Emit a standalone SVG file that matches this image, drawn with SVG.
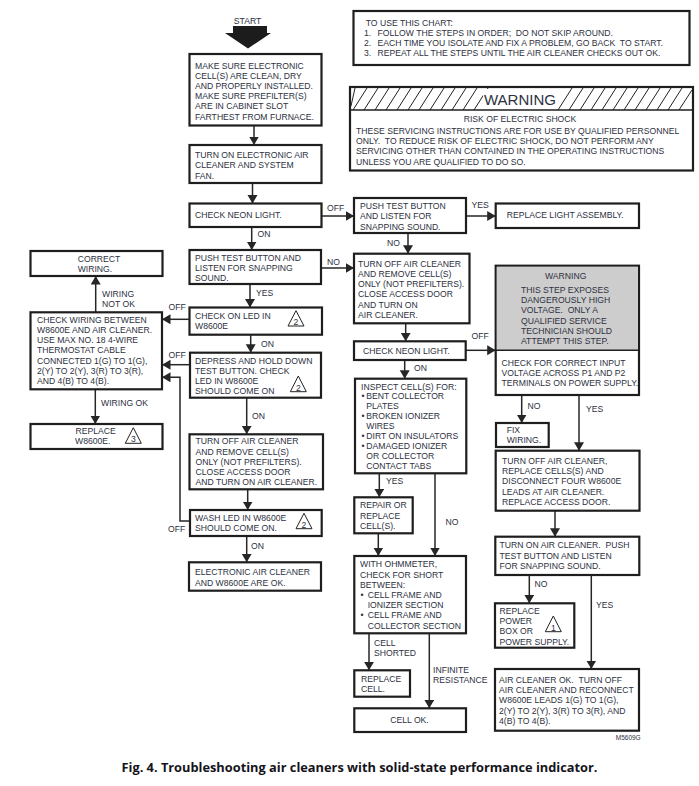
<svg xmlns="http://www.w3.org/2000/svg" width="699" height="786" viewBox="0 0 699 786">
<style>
text{font-family:"Liberation Sans",Arial,sans-serif;font-size:8.65px;fill:#2d3140;white-space:pre}
.b{fill:#fff;stroke:#1e1e1e;stroke-width:2.2}
.c{fill:none;stroke:#262626;stroke-width:1.5;marker-end:url(#a)}
.t{fill:#fff;stroke:#222;stroke-width:1}
.m{text-anchor:middle}
.cap{font-family:"Open Sans","Liberation Sans",sans-serif;font-size:12.8px;font-weight:700;fill:#14141a}
</style>
<defs>
<marker id="a" markerUnits="userSpaceOnUse" markerWidth="10" markerHeight="11" refX="8.500" refY="5" orient="auto"><path d="M0 0L8.500 5L0 10Z" fill="#262626"/></marker>
</defs>
<rect width="699" height="786" fill="#fff"/>
<g id="connectors">
<path class="c" d="M254 125V145"/>
<path class="c" d="M252.500 183V203.500"/>
<path class="c" d="M251.700 227V250"/>
<path class="c" d="M250 284V307.500"/>
<path class="c" d="M250.700 335V352.700"/>
<path class="c" d="M246.700 398V434.300"/>
<path class="c" d="M247.700 489V510"/>
<path class="c" d="M246.700 536V562.300"/>
<path class="c" d="M321 216H354"/>
<path class="c" d="M466 216H495.700"/>
<path class="c" d="M408 233V253.700"/>
<path class="c" d="M321 268H354"/>
<path class="c" d="M189.500 319.300H162"/>
<path class="c" d="M190 364.700H162"/>
<path class="c" d="M190 521H180V377.300H162"/>
<path class="c" d="M95.700 312V276"/>
<path class="c" d="M95.300 389V424"/>
<path class="c" d="M405.700 323V341.300"/>
<path class="c" d="M404.700 360V378.700"/>
<path class="c" d="M466 350.300H495.700"/>
<path class="c" d="M521.700 395V423"/>
<path class="c" d="M579 395V450.700"/>
<path class="c" d="M555 510.700V536.700"/>
<path class="c" d="M529.300 575V603.300"/>
<path class="c" d="M591.300 575V669"/>
<path class="c" d="M379.300 473V497.300"/>
<path class="c" d="M435 473V556"/>
<path class="c" d="M378.300 533V556"/>
<path class="c" d="M369 633V670.300"/>
<path class="c" d="M429.300 633V708.300"/>
</g>
<g id="labels">
<text x="327" y="211">OFF</text>
<text x="471.500" y="208">YES</text>
<text x="387" y="246">NO</text>
<text x="327" y="265">NO</text>
<text x="257.500" y="237">ON</text>
<text x="256" y="296">YES</text>
<text x="261" y="347">ON</text>
<text x="252" y="419">ON</text>
<text x="251" y="549">ON</text>
<text x="168.500" y="310">OFF</text>
<text x="168.500" y="358">OFF</text>
<text x="168" y="531.500">OFF</text>
<text x="102" y="296.700">WIRING</text>
<text x="102" y="306.700">NOT OK</text>
<text x="101" y="405.700">WIRING OK</text>
<text x="414" y="370.700">ON</text>
<text x="471.500" y="338.700">OFF</text>
<text x="527.500" y="408.700">NO</text>
<text x="586" y="411.700">YES</text>
<text x="534.500" y="587">NO</text>
<text x="596" y="608">YES</text>
<text x="386" y="484.300">YES</text>
<text x="445.500" y="525">NO</text>
<text x="374" y="646">CELL</text>
<text x="374" y="656">SHORTED</text>
<text x="433" y="672.700">INFINITE</text>
<text x="433" y="682.700">RESISTANCE</text>
</g>
<g id="start">
<text x="247.500" y="24" class="m">START</text>
<path d="M233 26H267V33H271L248 48.500L225 33H233Z" fill="#1c1c1c"/>
</g>
<g id="n-use">
<rect class="b" x="353.500" y="11" width="336" height="54"/>
<text x="365.700" y="26.200">TO USE THIS CHART:</text>
<text x="364" y="36.200">1.</text><text x="377.500" y="36.200">FOLLOW THE STEPS IN ORDER;  DO NOT SKIP AROUND.</text>
<text x="364" y="46.200">2.</text><text x="377.500" y="46.200">EACH TIME YOU ISOLATE AND FIX A PROBLEM, GO BACK  TO START.</text>
<text x="364" y="56.200">3.</text><text x="377.500" y="56.200">REPEAT ALL THE STEPS UNTIL THE AIR CLEANER CHECKS OUT OK.</text>
</g>
<g id="n-warning">
<rect class="b" x="350" y="87" width="343" height="83.500"/>
<path d="M351 106L355 88M353 110L367 88M364 110L378 88M375 110L389 88M386 110L400 88M397 110L411 88M408 110L422 88M419 110L433 88M430 110L444 88M441 110L455 88M452 110L466 88M463 110L477 88M474 110L488 88M558 110L572 88M569 110L583 88M580 110L594 88M591 110L605 88M602 110L616 88M613 110L627 88M624 110L638 88M635 110L649 88M646 110L660 88M657 110L671 88M668 110L682 88M679 110L692 90" stroke="#222" stroke-width="1" fill="none"/>
<path d="M350 110H693" stroke="#1e1e1e" stroke-width="1.400"/>
<rect x="483" y="89" width="75" height="20" fill="#fff"/>
<text x="520" y="104.500" class="m" style="font-size:15px">WARNING</text>
<text x="520" y="122.200" class="m">RISK OF ELECTRIC SHOCK</text>
<text x="356" y="134.200">THESE SERVICING INSTRUCTIONS ARE FOR USE BY QUALIFIED PERSONNEL</text>
<text x="356" y="144.200">ONLY.  TO REDUCE RISK OF ELECTRIC SHOCK, DO NOT PERFORM ANY</text>
<text x="356" y="154.200">SERVICING OTHER THAN CONTAINED IN THE OPERATING INSTRUCTIONS</text>
<text x="356" y="164.700">UNLESS YOU ARE QUALIFIED TO DO SO.</text>
</g>
<g id="n1">
<rect class="b" x="189.500" y="54" width="132" height="71.500"/>
<text x="195" y="69.200">MAKE SURE ELECTRONIC</text>
<text x="195" y="79.200">CELL(S) ARE CLEAN, DRY</text>
<text x="195" y="89.200">AND PROPERLY INSTALLED.</text>
<text x="195" y="99.200">MAKE SURE PREFILTER(S)</text>
<text x="195" y="109.200">ARE IN CABINET SLOT</text>
<text x="195" y="120">FARTHEST FROM FURNACE.</text>
</g>
<g id="n2">
<rect class="b" x="189.500" y="145" width="132" height="38"/>
<text x="195" y="158.200">TURN ON ELECTRONIC AIR</text>
<text x="195" y="168.200">CLEANER AND SYSTEM</text>
<text x="195" y="179">FAN.</text>
</g>
<g id="n3">
<rect class="b" x="189.500" y="203.500" width="132" height="23.500"/>
<text x="195" y="218.200">CHECK NEON LIGHT.</text>
</g>
<g id="n4">
<rect class="b" x="189.500" y="250" width="131.500" height="34"/>
<text x="195" y="261.200">PUSH TEST BUTTON AND</text>
<text x="195" y="271.200">LISTEN FOR SNAPPING</text>
<text x="195" y="281.200">SOUND.</text>
</g>
<g id="n5">
<rect class="b" x="189.500" y="307.500" width="132.500" height="27.200"/>
<text x="195" y="319.200">CHECK ON LED IN</text>
<text x="195" y="329.200">W8600E</text>
<path class="t" d="M296 310.700L304 326H288Z"/><text x="296" y="325" class="m">2</text>
</g>
<g id="n6">
<rect class="b" x="190" y="352.700" width="131" height="45"/>
<text x="195" y="364.200">DEPRESS AND HOLD DOWN</text>
<text x="195" y="374.200">TEST BUTTON. CHECK</text>
<text x="195" y="384.200">LED IN W8600E</text>
<text x="195" y="394.200">SHOULD COME ON</text>
<path class="t" d="M298.300 376L306.300 391.700H290.300Z"/><text x="298.300" y="390.500" class="m">2</text>
</g>
<g id="n7">
<rect class="b" x="189.500" y="434.300" width="133.500" height="55"/>
<text x="195.500" y="444.200">TURN OFF AIR CLEANER</text>
<text x="195.500" y="455.200">AND REMOVE CELL(S)</text>
<text x="195.500" y="465.200">ONLY (NOT PREFILTERS).</text>
<text x="195.500" y="475.200">CLOSE ACCESS DOOR</text>
<text x="195.500" y="485.200">AND TURN ON AIR CLEANER.</text>
</g>
<g id="n8">
<rect class="b" x="190" y="510" width="131.700" height="26"/>
<text x="195" y="521">WASH LED IN W8600E</text>
<text x="195" y="531">SHOULD COME ON.</text>
<path class="t" d="M304 513.300L312 528.700H296Z"/><text x="304" y="527.500" class="m">2</text>
</g>
<g id="n9">
<rect class="b" x="189" y="562.300" width="132" height="28.400"/>
<text x="195" y="575.200">ELECTRONIC AIR CLEANER</text>
<text x="195" y="586.200">AND W8600E ARE OK.</text>
</g>
<g id="n10">
<rect class="b" x="30.500" y="251" width="132" height="25"/>
<text x="77.700" y="262.200">CORRECT</text>
<text x="77.700" y="272.200">WIRING.</text>
</g>
<g id="n11">
<rect class="b" x="30.500" y="312.300" width="131.500" height="77"/>
<text x="37" y="323.200">CHECK WIRING BETWEEN</text>
<text x="37" y="333.200">W8600E AND AIR CLEANER.</text>
<text x="37" y="343.200">USE MAX NO. 18 4-WIRE</text>
<text x="37" y="353.200">THERMOSTAT CABLE</text>
<text x="37" y="364.200">CONNECTED 1(G) TO 1(G),</text>
<text x="37" y="374.200">2(Y) TO 2(Y), 3(R) TO 3(R),</text>
<text x="37" y="384.200">AND 4(B) TO 4(B).</text>
</g>
<g id="n12">
<rect class="b" x="30.500" y="424" width="132" height="25"/>
<text x="75.500" y="434.200">REPLACE</text>
<text x="75" y="444.200">W8600E.</text>
<path class="t" d="M133.300 427.700L141.300 443.300H125.300Z"/><text x="133.300" y="442" class="m">3</text>
</g>
<g id="n13">
<rect class="b" x="354" y="198" width="112" height="35"/>
<text x="360" y="209.200">PUSH TEST BUTTON</text>
<text x="360" y="219.200">AND LISTEN FOR</text>
<text x="360" y="230.200">SNAPPING SOUND.</text>
</g>
<g id="n14">
<rect class="b" x="495.700" y="203.500" width="143.300" height="24.500"/>
<text x="506.700" y="218.200">REPLACE LIGHT ASSEMBLY.</text>
</g>
<g id="n15">
<rect class="b" x="354" y="253.700" width="115.500" height="69.600"/>
<text x="358" y="267.200">TURN OFF AIR CLEANER</text>
<text x="358" y="277.200">AND REMOVE CELL(S)</text>
<text x="358" y="287.200">ONLY (NOT PREFILTERS).</text>
<text x="358" y="297.200">CLOSE ACCESS DOOR</text>
<text x="358" y="308.200">AND TURN ON</text>
<text x="358" y="318.200">AIR CLEANER.</text>
</g>
<g id="n16">
<rect class="b" x="354" y="341.300" width="111.700" height="18.700"/>
<text x="363" y="354.200">CHECK NEON LIGHT.</text>
</g>
<g id="n17">
<rect class="b" x="355" y="378.700" width="111.300" height="94.600"/>
<text x="361" y="390.200">INSPECT CELL(S) FOR:</text>
<text x="361.500" y="399.200">•</text><text x="366.300" y="399.200">BENT COLLECTOR</text>
<text x="366.300" y="409.200">PLATES</text>
<text x="361.500" y="419.200">•</text><text x="366.300" y="419.200">BROKEN IONIZER</text>
<text x="366.300" y="429.200">WIRES</text>
<text x="361.500" y="439.200">•</text><text x="366.300" y="439.200">DIRT ON INSULATORS</text>
<text x="361.500" y="449.200">•</text><text x="366.300" y="449.200">DAMAGED IONIZER</text>
<text x="366.300" y="459.200">OR COLLECTOR</text>
<text x="366.300" y="469.200">CONTACT TABS</text>
</g>
<g id="n18">
<rect class="b" x="354.300" y="497.300" width="58.400" height="36"/>
<text x="360" y="508.200">REPAIR OR</text>
<text x="360" y="519.200">REPLACE</text>
<text x="360" y="529.200">CELL(S).</text>
</g>
<g id="n19">
<rect class="b" x="354.300" y="556" width="111.700" height="77.300"/>
<text x="360" y="567.200">WITH OHMMETER,</text>
<text x="360" y="578.200">CHECK FOR SHORT</text>
<text x="360" y="588.200">BETWEEN:</text>
<text x="360.500" y="598.200">•</text><text x="367.700" y="598.200">CELL FRAME AND</text>
<text x="367.700" y="608.200">IONIZER SECTION</text>
<text x="360.500" y="618.200">•</text><text x="367.700" y="618.200">CELL FRAME AND</text>
<text x="367.700" y="629.200">COLLECTOR SECTION</text>
</g>
<g id="n20">
<rect class="b" x="354.300" y="670.300" width="55.700" height="26.400"/>
<text x="361" y="682.200">REPLACE</text>
<text x="361" y="692.200">CELL.</text>
</g>
<g id="n21">
<rect class="b" x="354.300" y="708.300" width="111.700" height="23.700"/>
<text x="409.500" y="723.200" class="m">CELL OK.</text>
</g>
<g id="n22">
<rect class="b" x="495.700" y="265.700" width="143.300" height="129.300"/>
<rect x="496.800" y="266.800" width="141.100" height="83.500" fill="#cdcdcd"/>
<path d="M495.700 350.300H639" stroke="#1e1e1e" stroke-width="1.400"/>
<text x="565.700" y="279.200" class="m">WARNING</text>
<text x="521" y="293.200">THIS STEP EXPOSES</text>
<text x="521" y="303.200">DANGEROUSLY HIGH</text>
<text x="521" y="313.200">VOLTAGE.  ONLY A</text>
<text x="521" y="324.200">QUALIFIED SERVICE</text>
<text x="521" y="334.200">TECHNICIAN SHOULD</text>
<text x="521" y="344.200">ATTEMPT THIS STEP.</text>
<text x="501.500" y="366.200">CHECK FOR CORRECT INPUT</text>
<text x="501.500" y="376.200">VOLTAGE ACROSS P1 AND P2</text>
<text x="501.500" y="386.200">TERMINALS ON POWER SUPPLY.</text>
</g>
<g id="n23">
<rect class="b" x="496" y="423" width="52.700" height="24"/>
<text x="506.700" y="433.200">FIX</text>
<text x="506.700" y="443.200">WIRING.</text>
</g>
<g id="n24">
<rect class="b" x="495.700" y="450.700" width="143.800" height="60"/>
<text x="502" y="464.200">TURN OFF AIR CLEANER,</text>
<text x="502" y="474.200">REPLACE CELLS(S) AND</text>
<text x="502" y="484.200">DISCONNECT FOUR W8600E</text>
<text x="502" y="495.200">LEADS AT AIR CLEANER.</text>
<text x="502" y="505.200">REPLACE ACCESS DOOR.</text>
</g>
<g id="n25">
<rect class="b" x="495.300" y="536.700" width="144" height="38.300"/>
<text x="499.500" y="548.200">TURN ON AIR CLEANER.  PUSH</text>
<text x="499.500" y="559.200">TEST BUTTON AND LISTEN</text>
<text x="499.500" y="569.200">FOR SNAPPING SOUND.</text>
</g>
<g id="n26">
<rect class="b" x="495" y="603.300" width="79.300" height="44.400"/>
<text x="499.500" y="614.200">REPLACE</text>
<text x="499.500" y="624.200">POWER</text>
<text x="499.500" y="634.200">BOX OR</text>
<text x="499.500" y="645.200">POWER SUPPLY.</text>
<path class="t" d="M553.300 616L561.300 631.700H545.300Z"/><text x="553.300" y="630.500" class="m">1</text>
</g>
<g id="n27">
<rect class="b" x="495" y="669" width="144" height="61.700"/>
<text x="499" y="683.200">AIR CLEANER OK.  TURN OFF</text>
<text x="499" y="693.200">AIR CLEANER AND RECONNECT</text>
<text x="499" y="703.200">W8600E LEADS 1(G) TO 1(G),</text>
<text x="499" y="714.200">2(Y) TO 2(Y), 3(R) TO 3(R), AND</text>
<text x="499" y="724.200">4(B) TO 4(B).</text>
</g>
<text x="640.700" y="740" text-anchor="end" style="font-size:6.500px">M5609G</text>
<text x="359.500" y="772" class="m cap">Fig. 4. Troubleshooting air cleaners with solid-state performance indicator.</text>
</svg>
